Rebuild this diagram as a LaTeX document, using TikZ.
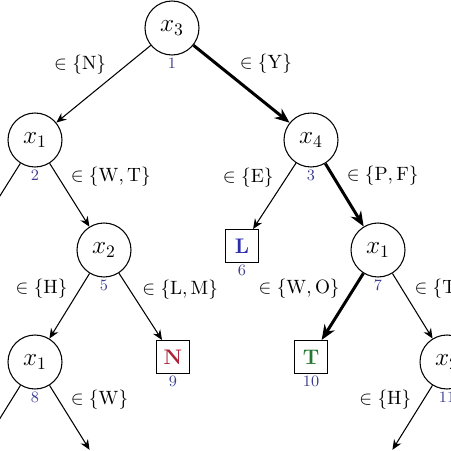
\documentclass[tikz,border=0pt]{standalone}
\usepackage{amsmath}
\usetikzlibrary{arrows.meta}

\definecolor{numcol}{RGB}{60,60,145}
\definecolor{leafL}{RGB}{45,45,170}
\definecolor{leafN}{RGB}{170,35,55}
\definecolor{leafT}{RGB}{40,120,50}

\begin{document}
\begin{tikzpicture}[x=0.2mm,y=-0.2mm,
  test/.style={circle,draw,line width=0.6pt,minimum size=10.8mm,inner sep=0pt,font=\Large},
  leaf/.style={rectangle,draw,line width=0.6pt,minimum size=6.6mm,inner sep=0pt,font=\large\bfseries},
  hidden/.style={circle,minimum size=10.8mm,inner sep=0pt},
  num/.style={label={[text=numcol,font=\small,inner sep=1pt,label distance=0pt]below:#1}},
  arc/.style={line width=0.6pt,-{Stealth[length=2mm,width=1.7mm]}},
  hot/.style={line width=1.7pt,-{Stealth[length=3mm,width=2.4mm]}},
  cond/.style={inner sep=2pt,font=\fontsize{11}{13}\selectfont}]
  \useasboundingbox (0,0) rectangle (451,451);
  \clip (0,0) rectangle (451,451);
  % tests and leaves
  \node[test,num=1] (n1) at (172,28) {$x_3$};
  \node[test,num=2] (n2) at (35,140) {$x_1$};
  \node[test,num=3] (n3) at (311,140) {$x_4$};
  \node[test,num=5] (n5) at (104,250) {$x_2$};
  \node[leaf,num=6,text=leafL] (n6) at (242,246) {L};
  \node[test,num=7] (n7) at (378,250) {$x_1$};
  \node[test,num=8] (n8) at (35,362) {$x_1$};
  \node[leaf,num=9,text=leafN] (n9) at (173,357) {N};
  \node[leaf,num=10,text=leafT] (n10) at (311,357) {T};
  \node[test,num=11] (n11) at (447,362) {$x_2$};
  % children outside the frame
  \node[hidden] (n4) at (-34,250) {};
  \node[hidden] (n12) at (-34,473) {};
  \node[hidden] (n13) at (104,473) {};
  \node[hidden] (n14) at (378,473) {};
  \node[hidden] (n15) at (516,473) {};
  % branches
  \draw[arc] (n1) -- (n2) node[cond,pos=0.43,above left] {$\in\{\mathrm{N}\}$};
  \draw[hot] (n1) -- (n3) node[cond,pos=0.43,above right] {$\in\{\mathrm{Y}\}$};
  \draw[arc] (n2) -- (n4);
  \draw[arc] (n2) -- (n5) node[cond,pos=0.43,above right] {$\in\{\mathrm{W},\mathrm{T}\}$};
  \draw[arc] (n3) -- (n6) node[cond,pos=0.43,above left] {$\in\{\mathrm{E}\}$};
  \draw[hot] (n3) -- (n7) node[cond,pos=0.43,above right] {$\in\{\mathrm{P},\mathrm{F}\}$};
  \draw[arc] (n5) -- (n8) node[cond,pos=0.45,above left] {$\in\{\mathrm{H}\}$};
  \draw[arc] (n5) -- (n9) node[cond,pos=0.45,above right] {$\in\{\mathrm{L},\mathrm{M}\}$};
  \draw[hot] (n7) -- (n10) node[cond,pos=0.45,above left] {$\in\{\mathrm{W},\mathrm{O}\}$};
  \draw[arc] (n7) -- (n11) node[cond,pos=0.45,above right] {$\in\{\mathrm{T}\}$};
  \draw[arc] (n8) -- (n12);
  \draw[arc] (n8) -- (n13) node[cond,pos=0.43,above right] {$\in\{\mathrm{W}\}$};
  \draw[arc] (n11) -- (n14) node[cond,pos=0.43,above left] {$\in\{\mathrm{H}\}$};
  \draw[arc] (n11) -- (n15);
\end{tikzpicture}
\end{document}
